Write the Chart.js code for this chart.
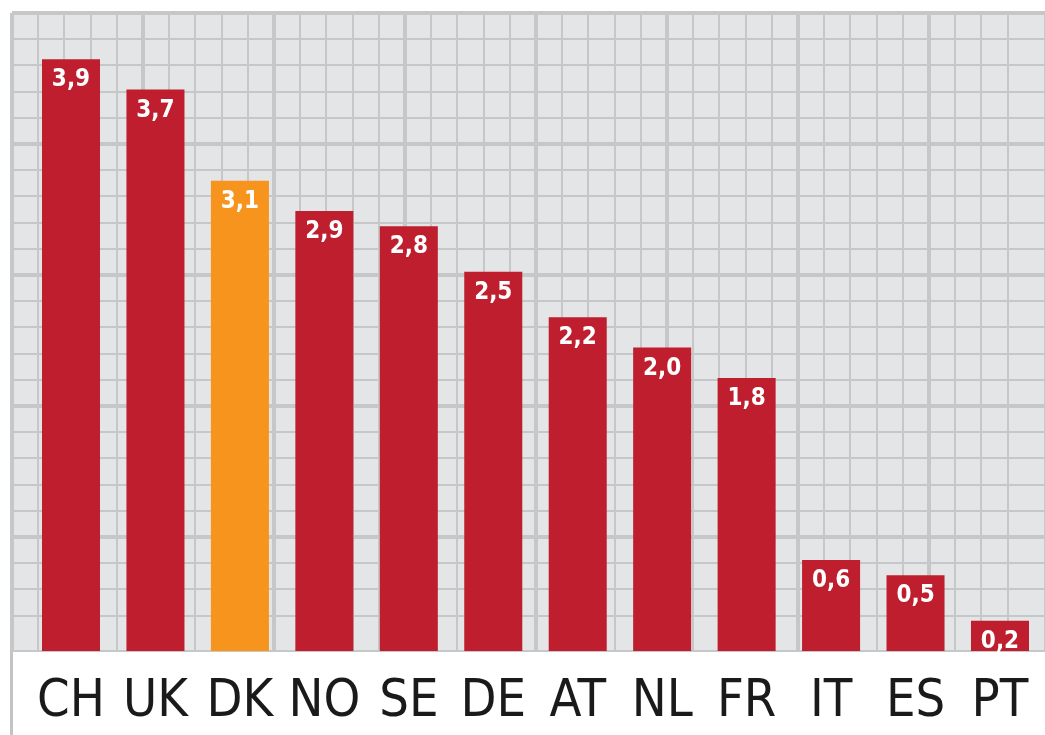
<!DOCTYPE html>
<html>
<head>
<meta charset="utf-8">
<title>bars</title>
<script src="https://cdn.jsdelivr.net/npm/chart.js@4/dist/chart.umd.min.js"></script>
<style>
  body { margin: 0; background: #fff; }
  canvas { display: block; }
</style>
</head>
<body>
<canvas id="barChart" width="1045" height="735"></canvas>
<script>
// data
var countries = ["CH", "UK", "DK", "NO", "SE", "DE", "AT", "NL", "FR", "IT", "ES", "PT"];
var values = [3.9, 3.7, 3.1, 2.9, 2.8, 2.5, 2.2, 2.0, 1.8, 0.6, 0.5, 0.2];
var barColors = ["#be1e2d", "#be1e2d", "#f7941d", "#be1e2d", "#be1e2d", "#be1e2d",
  "#be1e2d", "#be1e2d", "#be1e2d", "#be1e2d", "#be1e2d", "#be1e2d"];

var narrow = '"Liberation Sans Narrow", "DejaVu Sans Condensed", sans-serif';

function formatValue(v) {
  return v.toFixed(1).replace(".", ",");
}

// grey paper behind the grid + left rule running down past the plot
var paperPlugin = {
  id: "paper",
  beforeDraw: function (chart) {
    var ctx = chart.ctx, a = chart.chartArea;
    ctx.save();
    ctx.fillStyle = "#e4e5e7";
    ctx.fillRect(a.left, a.top, a.right - a.left, a.bottom - a.top);
    ctx.restore();
  },
  afterDraw: function (chart) {
    var ctx = chart.ctx, a = chart.chartArea;
    ctx.save();
    ctx.strokeStyle = "#c2c3c5";
    ctx.lineWidth = 3;
    ctx.beginPath();
    ctx.moveTo(a.left - 0.5, a.bottom);
    ctx.lineTo(a.left - 0.5, chart.height);
    ctx.stroke();
    ctx.restore();
  }
};

// white value labels at the top of each bar
var valueLabelPlugin = {
  id: "valueLabels",
  afterDatasetsDraw: function (chart) {
    var ctx = chart.ctx;
    var meta = chart.getDatasetMeta(0);
    ctx.save();
    ctx.fillStyle = "#ffffff";
    ctx.font = "bold 24px " + narrow;
    ctx.textAlign = "center";
    ctx.textBaseline = "alphabetic";
    meta.data.forEach(function (bar, i) {
      ctx.fillText(formatValue(values[i]), bar.x, bar.y + 27);
    });
    ctx.restore();
  }
};

function gridWidth(ctx) {
  var v = ctx.tick ? ctx.tick.value : 0;
  return Math.abs(v % 5) < 0.001 ? 4 : 2;
}

function createBarChart() {
  var points = countries.map(function (c, i) {
    return { x: i, y: values[i] };
  });

  new Chart("barChart", {
    type: "bar",
    data: {
      datasets: [{
        data: points,
        backgroundColor: barColors,
        borderWidth: 0,
        categoryPercentage: 1,
        barPercentage: 0.687
      }]
    },
    plugins: [paperPlugin, valueLabelPlugin],
    options: {
      responsive: false,
      animation: false,
      devicePixelRatio: 1,
      layout: { padding: { top: 13, left: 12, right: 0, bottom: 0 } },
      plugins: {
        legend: { display: false },
        tooltip: { enabled: false }
      },
      scales: {
        x: {
          type: "linear",
          position: "bottom",
          offset: false,
          min: -0.6986,
          max: 11.533,
          grid: { display: false, drawTicks: false, offset: false },
          border: { display: false },
          afterBuildTicks: function (scale) {
            scale.ticks = countries.map(function (c, i) { return { value: i }; });
          },
          ticks: {
            autoSkip: false,
            maxRotation: 0,
            padding: 20,
            color: "#1a1a1a",
            font: { family: narrow, size: 52 },
            callback: function (v) {
              return countries[v] || "";
            }
          },
          afterFit: function (scale) {
            scale.height = 84;
            scale.paddingLeft = 0;
            scale.paddingRight = 0;
          }
        },
        y: {
          display: false,
          min: 0,
          max: 4.205
        },
        gx: {
          type: "linear",
          position: "top",
          offset: false,
          min: 0,
          max: 39.43,
          border: { display: false },
          grid: { color: "#c6c7c9", lineWidth: gridWidth, drawTicks: false, offset: false },
          ticks: { display: false, stepSize: 1, autoSkip: false, maxTicksLimit: 1000 },
          afterFit: function (scale) { scale.height = 0; }
        },
        gy: {
          type: "linear",
          position: "left",
          reverse: true,
          offset: false,
          min: 0,
          max: 24.35,
          border: { display: false },
          grid: { color: "#c6c7c9", lineWidth: gridWidth, drawTicks: false, offset: false },
          ticks: { display: false, stepSize: 1, autoSkip: false, maxTicksLimit: 1000 },
          afterFit: function (scale) { scale.width = 0; }
        }
      }
    }
  });
}

createBarChart();
</script>
</body>
</html>
